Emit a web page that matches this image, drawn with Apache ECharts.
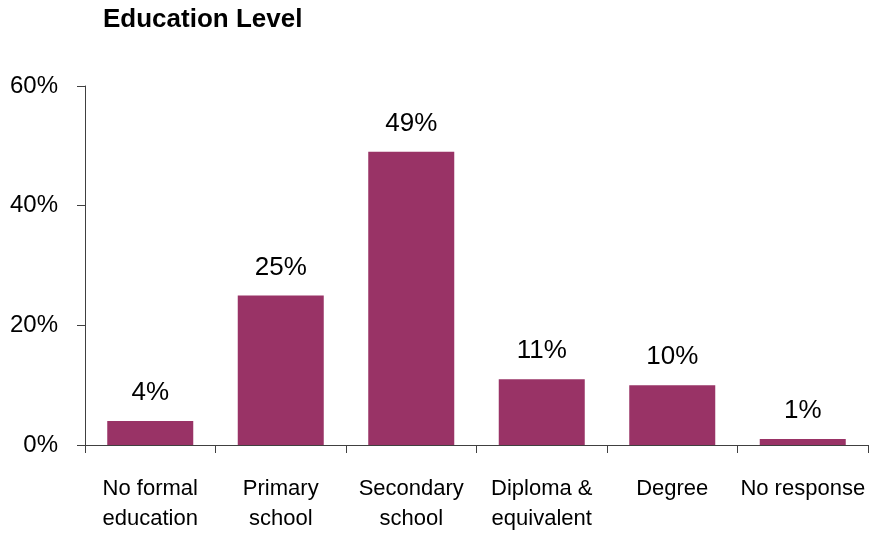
<!DOCTYPE html>
<html><head><meta charset="utf-8">
<script src="https://cdn.jsdelivr.net/npm/echarts@6/dist/echarts.min.js"></script>
<style>html,body{margin:0;padding:0;background:#fff}#c{width:876px;height:534px}</style>
</head><body><div id="c"></div>
<script>
const categories = ['No formal\neducation', 'Primary\nschool', 'Secondary\nschool', 'Diploma &\nequivalent', 'Degree', 'No response'];
const values = [4, 25, 49, 11, 10, 1];
const yTicks = [0, 20, 40, 60];
const title = 'Education Level';

const chart = echarts.init(document.getElementById('c'), null, {renderer: 'canvas'});
const font = '"Liberation Sans", Arial, sans-serif';
chart.setOption({
  animation: false,
  title: {text: title, left: 98, top: 2, textStyle: {fontFamily: font, fontSize: 26, fontWeight: 'bold', color: '#000'}},
  grid: {left: 85, right: 8, top: 86, bottom: 89},
  xAxis: {
    type: 'category', data: categories,
    axisLine: {lineStyle: {color: '#404040', width: 1}},
    axisTick: {show: true, length: 8, alignWithLabel: false, lineStyle: {color: '#404040'}},
    axisLabel: {fontFamily: font, fontSize: 22, color: '#000', lineHeight: 30, margin: 29, interval: 0}
  },
  yAxis: {
    type: 'value', min: 0, max: 60, interval: 20,
    axisLine: {show: true, lineStyle: {color: '#404040', width: 1}},
    axisTick: {show: true, length: 8, lineStyle: {color: '#404040'}},
    splitLine: {show: false},
    axisLabel: {fontFamily: font, fontSize: 24, color: '#000', margin: 27, formatter: v => yTicks.includes(v) ? v + '%' : ''}
  },
  series: [{
    type: 'bar', data: values, barWidth: 86,
    itemStyle: {color: '#993366'},
    label: {show: true, position: 'top', distance: 15, fontFamily: font, fontSize: 26, color: '#000', formatter: p => p.value + '%'}
  }]
});
</script></body></html>
